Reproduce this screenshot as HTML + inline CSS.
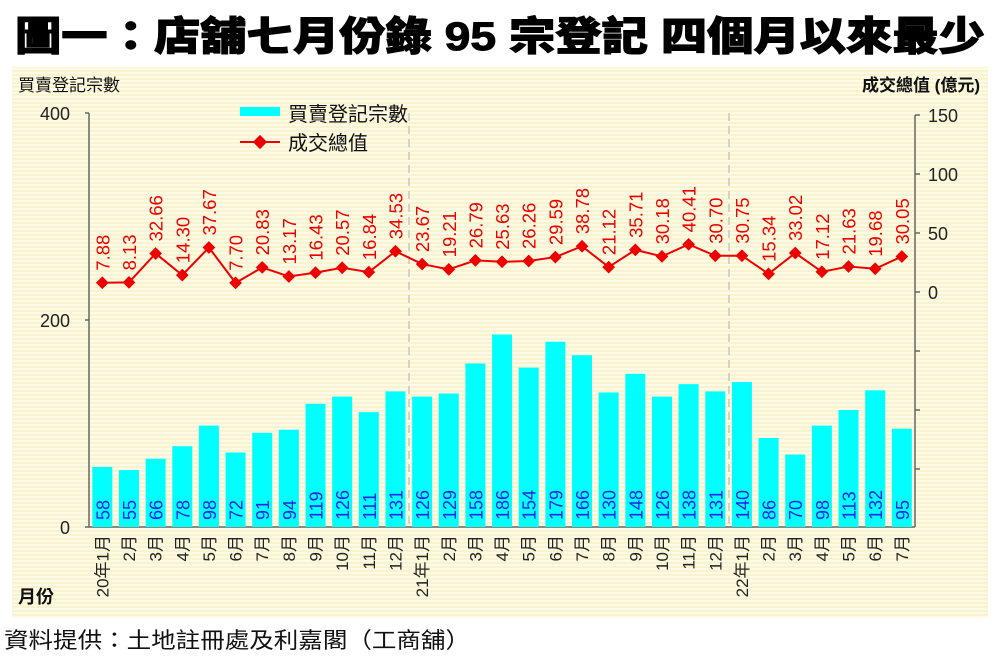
<!DOCTYPE html>
<html><head><meta charset="utf-8"><style>
body{margin:0;background:#fff;width:1006px;height:659px;overflow:hidden;font-family:"Liberation Sans","Noto Sans CJK TC",sans-serif}
</style></head><body>
<svg width="1006" height="659" xmlns="http://www.w3.org/2000/svg" font-family="Liberation Sans, Noto Sans CJK TC, sans-serif">
<defs><pattern id="st" width="4" height="4" patternUnits="userSpaceOnUse"><rect width="4" height="4" fill="#fdfbe6"/><rect y="2" width="4" height="2" fill="#f9f4cf"/></pattern></defs>
<text x="15" y="50" font-size="40" font-weight="900" fill="#000" textLength="970" lengthAdjust="spacingAndGlyphs" stroke="#000" stroke-width="1">圖一：店舖七月份錄 95 宗登記  四個月以來最少</text>
<rect x="12" y="67" width="976" height="551" fill="url(#st)"/>
<text x="18" y="91" font-size="17" fill="#111">買賣登記宗數</text>
<text x="980" y="91" font-size="17" fill="#111" text-anchor="end" font-weight="bold">成交總值 (億元)</text>
<text x="18" y="603" font-size="18" font-weight="bold" fill="#111">月份</text>
<text x="4" y="648" font-size="22" fill="#111" textLength="466" lengthAdjust="spacingAndGlyphs">資料提供：土地註冊處及利嘉閣（工商舖）</text>
<g stroke="#666" stroke-width="1.5" fill="none">
<line x1="89" y1="113" x2="89" y2="527"/><line x1="85" y1="527" x2="915" y2="527"/>
<line x1="85" y1="113" x2="89" y2="113"/><line x1="85" y1="320" x2="89" y2="320"/>
<line x1="915" y1="115" x2="915" y2="527"/>
<line x1="915" y1="115" x2="920" y2="115"/><line x1="915" y1="174" x2="920" y2="174"/><line x1="915" y1="233" x2="920" y2="233"/><line x1="915" y1="292" x2="920" y2="292"/><line x1="915" y1="351" x2="920" y2="351"/><line x1="915" y1="410" x2="920" y2="410"/><line x1="915" y1="469" x2="920" y2="469"/>
</g>
<g stroke="#bbb" stroke-width="1.2" stroke-dasharray="8,5"><line x1="409" y1="113" x2="409" y2="527"/><line x1="729" y1="113" x2="729" y2="527"/></g>
<g font-size="18" fill="#222"><text x="70" y="120" text-anchor="end">400</text><text x="70" y="327" text-anchor="end">200</text><text x="70" y="534" text-anchor="end">0</text>
<text x="928" y="122">150</text><text x="928" y="181">100</text><text x="928" y="240">50</text><text x="928" y="299">0</text></g>
<rect x="240" y="107" width="40" height="9" fill="#00ffff"/>
<text x="288" y="121" font-size="20" fill="#111">買賣登記宗數</text>
<line x1="240" y1="142" x2="280" y2="142" stroke="#e00" stroke-width="2"/><rect x="255" y="137" width="10" height="10" fill="#e00" transform="rotate(45 260 142)"/>
<text x="288" y="150" font-size="20" fill="#111">成交總值</text>
<g id="c"></g>
</svg>
<script>
var b=[58,55,66,78,98,72,91,94,119,126,111,131,126,129,158,186,154,179,166,130,148,126,138,131,140,86,70,98,113,132,95];
var v=["7.88","8.13","32.66","14.30","37.67","7.70","20.83","13.17","16.43","20.57","16.84","34.53","23.67","19.21","26.79","25.63","26.26","29.59","38.78","21.12","35.71","30.18","40.41","30.70","30.75","15.34","33.02","17.12","21.63","19.68","30.05"];
var m=["20年1月","2月","3月","4月","5月","6月","7月","8月","9月","10月","11月","12月","21年1月","2月","3月","4月","5月","6月","7月","8月","9月","10月","11月","12月","22年1月","2月","3月","4月","5月","6月","7月"];
var s="",pts=[];
for(var i=0;i<31;i++){var cx=89+26.65*(i+0.5);var h=b[i]*207/200;
s+='<rect x="'+(cx-10)+'" y="'+(527-h)+'" width="20" height="'+h+'" fill="#00ffff"/>';
s+='<text transform="translate('+(cx+7)+',520) rotate(-90)" font-size="18" fill="#2222ee">'+b[i]+'</text>';
s+='<text transform="translate('+(cx+6)+',535) rotate(-90)" text-anchor="end" font-size="17" fill="#222">'+m[i]+'</text>';
var y=292-parseFloat(v[i])*1.18;pts.push(cx+','+y);
s+='<text transform="translate('+(cx+7)+','+(y-12)+') rotate(-90)" font-size="18.5" fill="#e00">'+v[i]+'</text>';}
s+='<polyline points="'+pts.join(' ')+'" fill="none" stroke="#e00" stroke-width="2"/>';
pts.forEach(function(p){var a=p.split(',');s+='<rect x="'+(a[0]-4.5)+'" y="'+(a[1]-4.5)+'" width="9" height="9" fill="#e00" transform="rotate(45 '+a[0]+' '+a[1]+')"/>';});
document.getElementById('c').innerHTML=s;
</script>
</body></html>
